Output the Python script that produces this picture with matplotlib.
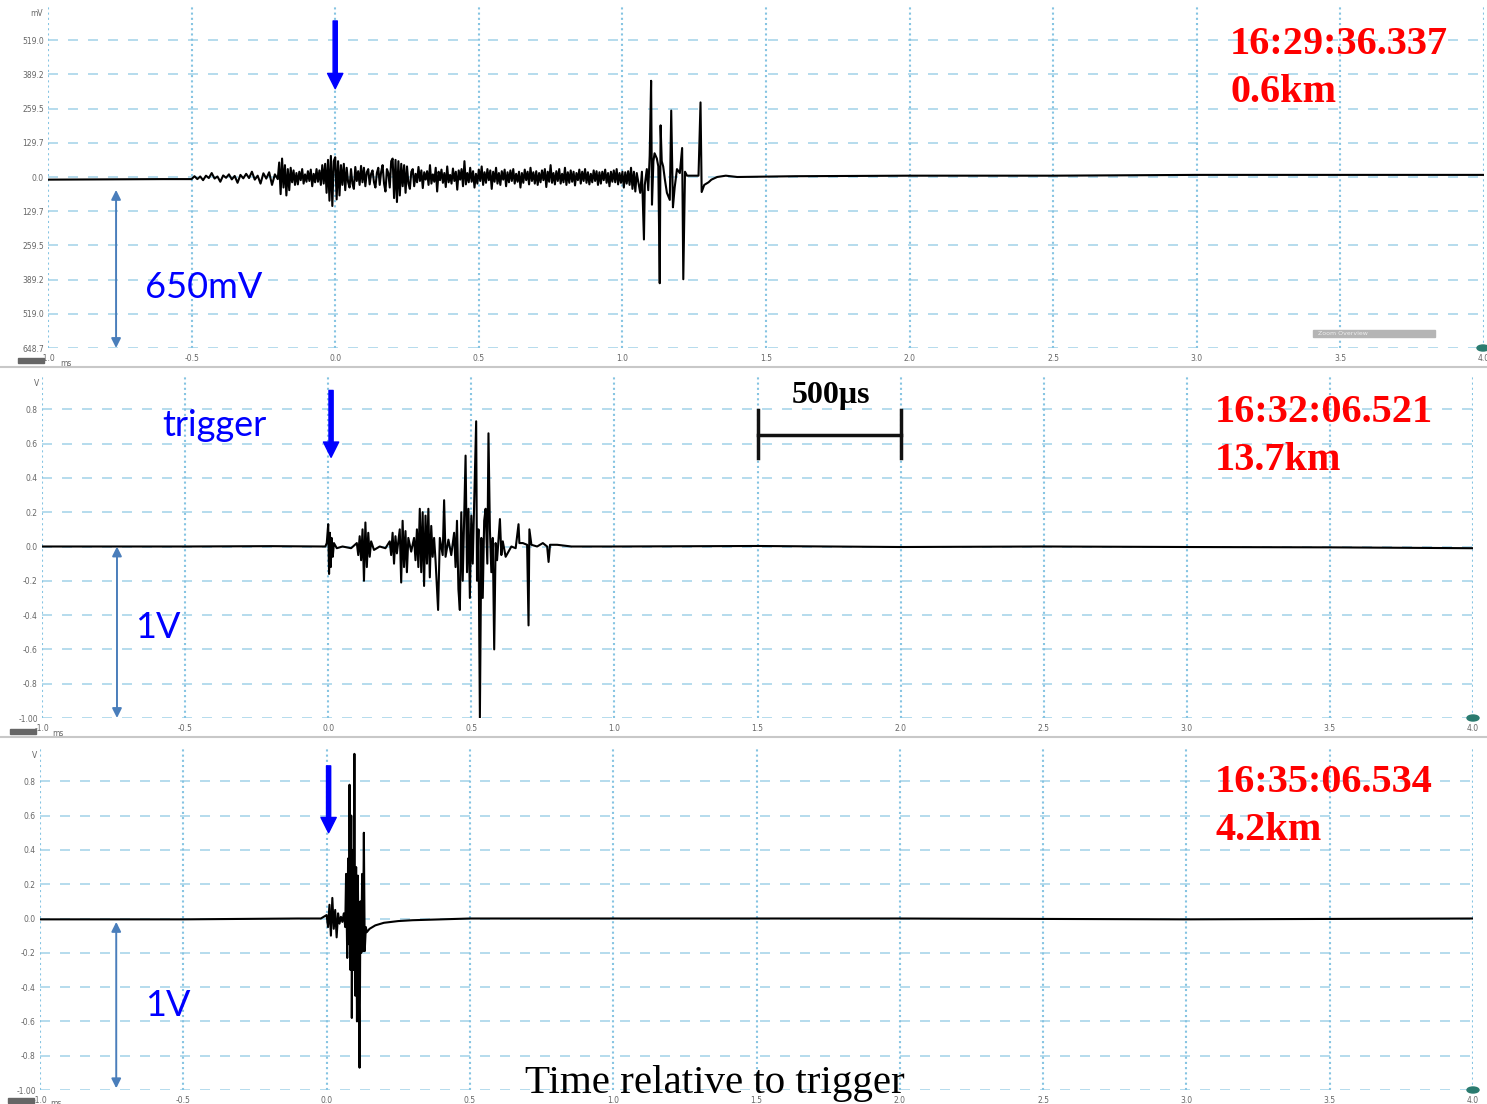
import numpy as np
import matplotlib.pyplot as plt
from matplotlib.patches import Rectangle, Ellipse

# three lightning field-change records, time in ms relative to trigger

# record 1 (mV)
t1 = [-1.0, -0.8, -0.6, -0.5,
      -0.49, -0.48, -0.47, -0.46, -0.45, -0.44, -0.43, -0.42, -0.41, -0.40,
      -0.39, -0.38, -0.37, -0.36, -0.35, -0.34, -0.33, -0.32, -0.31, -0.30,
      -0.29, -0.28, -0.27, -0.26, -0.25, -0.24, -0.23, -0.22, -0.21, -0.20,
      -0.195, -0.190, -0.185, -0.180, -0.175, -0.170, -0.165, -0.160, -0.155, -0.150,
      -0.145, -0.140, -0.135, -0.130, -0.125, -0.120, -0.115, -0.110, -0.105, -0.100,
      -0.095, -0.090, -0.085, -0.080, -0.075, -0.070, -0.065, -0.060, -0.055, -0.050,
      -0.045, -0.040, -0.035, -0.030, -0.025, -0.020, -0.015, -0.010, -0.005, 0.000,
      0.005, 0.010, 0.015, 0.020, 0.025, 0.030, 0.035, 0.040, 0.045, 0.050,
      0.055, 0.060, 0.065, 0.070, 0.075, 0.080, 0.085, 0.090, 0.095, 0.100,
      0.105, 0.110, 0.115, 0.120, 0.125, 0.130, 0.135, 0.140, 0.145, 0.150,
      0.155, 0.160, 0.165, 0.170, 0.175, 0.180, 0.185, 0.190, 0.195, 0.200,
      0.205, 0.210, 0.215, 0.220, 0.225, 0.230, 0.235, 0.240, 0.245, 0.250,
      0.255, 0.260, 0.265,
      0.270, 0.275, 0.280, 0.285, 0.290, 0.295, 0.300, 0.305, 0.310, 0.315,
      0.320, 0.325, 0.330, 0.335, 0.340, 0.345, 0.350, 0.355, 0.360, 0.365,
      0.370, 0.375, 0.380, 0.385, 0.390, 0.395, 0.400, 0.405, 0.410, 0.415,
      0.420, 0.425, 0.430, 0.435, 0.440, 0.445, 0.450, 0.455, 0.460, 0.465,
      0.470, 0.475, 0.480, 0.485, 0.490, 0.495, 0.500, 0.505, 0.510, 0.515,
      0.520, 0.525, 0.530, 0.535, 0.540, 0.545, 0.550, 0.555, 0.560, 0.565,
      0.570, 0.575, 0.580, 0.585, 0.590, 0.595, 0.600, 0.605, 0.610, 0.615,
      0.620, 0.625, 0.630, 0.635, 0.640, 0.645, 0.650, 0.655, 0.660, 0.665,
      0.670, 0.675, 0.680, 0.685, 0.690, 0.695, 0.700, 0.705, 0.710, 0.715,
      0.720, 0.725, 0.730, 0.735, 0.740, 0.745, 0.750, 0.755, 0.760, 0.765,
      0.770, 0.775, 0.780, 0.785, 0.790, 0.795, 0.800, 0.805, 0.810, 0.815,
      0.820, 0.825, 0.830, 0.835, 0.840, 0.845, 0.850, 0.855, 0.860, 0.865,
      0.870, 0.875, 0.880, 0.885, 0.890, 0.895, 0.900, 0.905, 0.910, 0.915,
      0.920, 0.925, 0.930, 0.935, 0.940, 0.945, 0.950, 0.955, 0.960, 0.965,
      0.970, 0.975, 0.980, 0.985, 0.990, 0.995, 1.000, 1.005, 1.010, 1.015,
      1.020, 1.025, 1.030, 1.035, 1.040, 1.045, 1.050,
      1.062, 1.068, 1.075, 1.078, 1.085, 1.090, 1.095, 1.100, 1.103, 1.108, 1.112, 1.120,
      1.125, 1.130, 1.133, 1.137, 1.142, 1.148, 1.155, 1.165, 1.170, 1.176, 1.182, 1.190,
      1.200, 1.208, 1.212, 1.218, 1.225, 1.24, 1.265, 1.272, 1.276, 1.285, 1.30, 1.31,
      1.33, 1.36, 1.40, 1.6, 2.0, 2.5, 3.0, 3.5, 4.0]
v1 = [-10, -9, -8, -8,
      3, -8, 2, -12, 5, -4, 15, -6, 2, -18,
      6, -3, 10, -9, 4, -22, 8, -5, 12, -4,
      20, -10, 5, -25, 14, -6, 18, -30, 10, -8,
      55, -65, 70, -40, 45, -70, 30, -50, 35, -20,
      25, -30, 15, -28, 20, -12, 30, -25, 10, -18,
      22, -15, 28, -35, 12, -20, 30, -18, 25, -30,
      45, -25, 50, -60, 65, -90, 80, -110, 60, 75,
      -85, 60, -70, 45, -30, 50, -50, 35, -20, -40,
      30, -25, -45, 38, -15, 22, -30, 42, -20, 35,
      -35, 18, 30, -28, 12, 25, -20, -40, 15, 35,
      -30, 20, 45, -25, -55, 30, 15, -40, 60, 70,
      -80, 65, -95, 60, -70, 50, -35, 45, -60, 40,
      -25, -45, 20,
      30, -35, 12, -20, 38, -15, 25, -42, 18, -10,
      22, -30, 45, -25, 10, -18, 35, -55, 20, -12,
      28, -22, 15, -38, 40, -20, 8, -25, 32, -15,
      20, -48, 25, -10, 30, -35, 60, -28, 15, -20,
      35, -18, 22, -40, 12, -25, 28, -15, 40, -30,
      18, -22, 30, -12, 25, -45, 20, -18, 35, -25,
      15, -30, 22, -10, 28, -35, 18, -20, 25, -15,
      30, -25, 12, -18, 20, -40, 15, -22, 28, -12,
      20, -28, 35, -15, 18, -25, 22, -30, 15, -20,
      25, -12, 30, -38, 20, -18, 45, -22, 15, -28,
      22, -15, 30, -25, 12, -20, 35, -30, 18, -22,
      25, -18, 20, -32, 15, -12, 28, -25, 20, -15,
      30, -22, 18, -28, 12, -20, 25, -15, 22, -30,
      18, -25, 20, -12, 28, -22, 15, -35, 20, -18,
      25, -20, 30, -28, 15, -22, 20, -40, 18, -25,
      22, -30, 35, -45, 20, -55, 15,
      -60, 20, -237, -30, 30, -50, 80, 365, -105, 60, 90, 70,
      40, -403, 196, 60, 40, -10, -60, -87, 252, -115, -40, 30,
      15, 110, -388, 20, 5, 5, 5, 283, -57, -30, -20, -10,
      0, 5, 0, 3, 5, 5, 8, 8, 8]

# record 2 (V)
t2 = [-1.0, -0.5, -0.2, -0.01,
      -0.005, 0.0, 0.003, 0.006, 0.009, 0.012, 0.016, 0.02, 0.03, 0.05, 0.08,
      0.10, 0.105, 0.11, 0.115, 0.12, 0.125, 0.13, 0.135, 0.14, 0.145, 0.15, 0.16, 0.18, 0.20,
      0.215, 0.22, 0.225, 0.23, 0.235, 0.24, 0.25, 0.255, 0.26, 0.265, 0.27, 0.275, 0.28, 0.29,
      0.30, 0.305, 0.31, 0.315, 0.32, 0.325, 0.33, 0.335, 0.34, 0.345, 0.35, 0.355, 0.36, 0.365, 0.37,
      0.375, 0.384, 0.39, 0.40, 0.405, 0.41, 0.42, 0.43,
      0.44, 0.445, 0.45, 0.455, 0.46, 0.465, 0.47, 0.48, 0.485, 0.49, 0.495, 0.50, 0.505, 0.51,
      0.517, 0.52, 0.525, 0.53, 0.535, 0.54, 0.545, 0.55, 0.556, 0.56, 0.565, 0.57, 0.575, 0.58,
      0.585, 0.59, 0.60, 0.605, 0.61, 0.62, 0.63, 0.64, 0.655, 0.665, 0.668, 0.68, 0.695, 0.70,
      0.703, 0.71, 0.73, 0.75, 0.765, 0.77, 0.775, 0.80, 0.85,
      1.0, 1.5, 2.0, 2.5, 3.0, 3.5, 4.0]
v2 = [0.0, 0.0, 0.002, 0.0,
      0.02, 0.13, -0.16, 0.08, -0.12, 0.05, -0.06, 0.02, -0.01, 0.0, -0.01,
      0.02, -0.05, 0.06, -0.08, 0.10, -0.20, 0.14, -0.12, 0.08, -0.06, 0.03, -0.02, 0.0, -0.01,
      0.03, -0.05, 0.08, -0.10, 0.06, -0.04, 0.10, -0.21, 0.15, -0.12, 0.09, -0.15, 0.05, -0.03,
      0.05, -0.08, 0.10, -0.12, 0.22, -0.15, 0.20, -0.23, 0.18, -0.10, 0.22, -0.18, 0.12, -0.06, 0.05,
      -0.08, -0.37, 0.05, -0.05, 0.27, -0.06, 0.04, -0.05,
      0.08, -0.12, 0.15, -0.25, -0.37, 0.20, -0.20, 0.53, -0.15, 0.22, -0.30, 0.18, -0.10, 0.25,
      0.73, -0.20, 0.10, -1.0, 0.05, -0.30, 0.15, 0.22, -0.10, 0.66, 0.10, -0.15, 0.05, -0.60,
      0.02, -0.08, 0.16, -0.05, 0.03, -0.06, -0.03, 0.0, -0.01, 0.13, 0.02, 0.02, 0.01, -0.46,
      0.10, 0.01, 0.0, 0.02, 0.0, -0.09, 0.01, 0.01, 0.0,
      0.0, 0.003, -0.003, 0.0, -0.003, -0.005, -0.01]

# record 3 (V)
t3 = [-1.0, -0.5, -0.1, -0.02,
      0.0, 0.005, 0.01, 0.015, 0.02, 0.025, 0.03, 0.035, 0.04, 0.045, 0.05, 0.055, 0.06,
      0.065, 0.068, 0.072, 0.075, 0.078, 0.08, 0.083, 0.086, 0.088, 0.091, 0.094, 0.097,
      0.10, 0.103, 0.106, 0.109, 0.112, 0.115, 0.118, 0.121, 0.124, 0.127, 0.13, 0.133,
      0.137, 0.14, 0.15, 0.17, 0.2, 0.25, 0.3, 0.4, 0.5, 1.0, 2.0, 3.0, 4.0]
v3 = [-0.005, -0.005, 0.0, 0.0,
      0.02, -0.05, 0.08, -0.10, 0.12, -0.06, 0.05, -0.11, 0.03, -0.03, 0.01, -0.02, 0.03,
      -0.05, 0.26, -0.23, 0.35, -0.15, 0.78, -0.30, 0.60, -0.58, 0.40, -0.30, 0.96,
      -0.45, 0.30, -0.60, 0.25, -0.35, -0.87, 0.10, -0.20, 0.26, -0.19, 0.50, -0.19,
      -0.05, -0.08, -0.06, -0.04, -0.025, -0.015, -0.01, -0.005, 0.0, 0.0, 0.0, -0.005, 0.0]

x_ticks = [-1.0, -0.5, 0.0, 0.5, 1.0, 1.5, 2.0, 2.5, 3.0, 3.5, 4.0]
mv_ticks = [-648.7, -519.0, -389.2, -259.5, -129.7, 0.0, 129.7, 259.5, 389.2, 519.0]
mv_labels = ['648.7', '519.0', '389.2', '259.5', '129.7', '0.0', '129.7', '259.5', '389.2', '519.0']
v_ticks = [-1.0, -0.8, -0.6, -0.4, -0.2, 0.0, 0.2, 0.4, 0.6, 0.8]
v_labels = ['-1.00', '-0.8', '-0.6', '-0.4', '-0.2', '0.0', '0.2', '0.4', '0.6', '0.8']
stamps = ['16:29:36.337', '16:32:06.521', '16:35:06.534']
dists = ['0.6km', '13.7km', '4.2km']

W, H = 1487, 1104
def fx(x):
    return x / W
def fy(y):
    return 1 - y / H

fig = plt.figure(figsize=(W / 100, H / 100), dpi=100)

# axes boxes in pixels: left, right, top, bottom
boxes = [(48, 1484, 6, 348), (42, 1473, 375, 718), (40, 1473, 747, 1090)]
axes = []
for (l, r, t, b) in boxes:
    ax = fig.add_axes([fx(l), fy(b), (r - l) / W, (b - t) / H])
    axes.append(ax)

grid_h = '#a9d6ea'
grid_v = '#86c4e2'
datas = [(t1, v1, mv_ticks, mv_labels, 648.7), (t2, v2, v_ticks, v_labels, 1.0), (t3, v3, v_ticks, v_labels, 1.0)]
for ax, (t, v, yt, yl, lim) in zip(axes, datas):
    ax.set_xlim(-1.0, 4.0)
    ax.set_ylim(-lim, lim)
    for s in ax.spines.values():
        s.set_visible(False)
    ax.set_yticks(yt)
    ax.set_yticklabels(yl)
    ax.set_xticks(x_ticks)
    ax.set_xticklabels(['%.1f' % x for x in x_ticks])
    ax.tick_params(length=0, labelsize=5.5, labelcolor='#666666', pad=3)
    ax.tick_params(axis='x', pad=4)
    for y in yt:
        ax.axhline(y, color=grid_h, lw=1.2, ls=(0, (6, 6)), zorder=0)
    for x in x_ticks:
        ax.axvline(x, color=grid_v, lw=1.5, ls=(0, (1, 1.5)), zorder=0)
    ax.plot(t, v, color='black', lw=1.5, zorder=3)

# trigger arrows
arrow_kw = dict(color='blue', width=3, headwidth=11, headlength=11)
axes[0].annotate('', xy=(0.0, 335), xytext=(0.0, 592), arrowprops=arrow_kw)
axes[1].annotate('', xy=(0.01, 0.52), xytext=(0.01, 0.91), arrowprops=arrow_kw)
axes[2].annotate('', xy=(0.007, 0.50), xytext=(0.007, 0.89), arrowprops=arrow_kw)

# amplitude arrows
dbl = dict(arrowstyle='<|-|>', color='#4a7ebb', lw=1.4, mutation_scale=14, shrinkA=0, shrinkB=0)
axes[0].annotate('', xy=(-0.763, -648.7), xytext=(-0.763, -49), arrowprops=dbl)
axes[1].annotate('', xy=(-0.738, -1.0), xytext=(-0.738, 0.0), arrowprops=dbl)
axes[2].annotate('', xy=(-0.734, -0.99), xytext=(-0.734, -0.02), arrowprops=dbl)

# 500 us scale bar
axes[1].plot([1.5, 2.0], [0.65, 0.65], color='#111111', lw=2.5, zorder=4)
axes[1].plot([1.5, 1.5], [0.515, 0.795], color='#111111', lw=2.5, zorder=4)
axes[1].plot([2.0, 2.0], [0.515, 0.795], color='#111111', lw=2.5, zorder=4)
fig.text(fx(831), fy(396), '500\u03bcs', family='Liberation Serif', weight='bold',
         fontsize=23, ha='center', va='center')

blue_kw = dict(family='Lato', color='blue', fontsize=26, va='center')
fig.text(fx(145), fy(287), '650mV', **blue_kw)
fig.text(fx(162), fy(425), 'trigger', **blue_kw)
fig.text(fx(135), fy(628), '1V', **blue_kw)
fig.text(fx(145), fy(1005), '1V', **blue_kw)

red_kw = dict(family='Liberation Serif', weight='bold', color='red', fontsize=29, va='center')
for (x, y1, y2), s, d in zip([(1230, 45, 93), (1215, 412, 461), (1215, 783, 831)], stamps, dists):
    fig.text(fx(x), fy(y1), s, **red_kw)
    fig.text(fx(x), fy(y2), d, **red_kw)

fig.text(fx(715), fy(1084), 'Time relative to trigger', family='Liberation Serif',
         fontsize=29.5, ha='center', va='center')

# unit labels and small scope decorations
small = dict(fontsize=5.5, color='#666666', va='center')
fig.text(fx(30), fy(13), 'mV', **small)
fig.text(fx(34), fy(383), 'V', **small)
fig.text(fx(32), fy(755), 'V', **small)
for (bx, by) in [(18, 358), (10, 729), (8, 1098)]:
    fig.patches.append(Rectangle((fx(bx), fy(by + 5)), 26 / W, 5 / H, transform=fig.transFigure,
                                 color='#666666'))
    fig.text(fx(bx + 42), fy(by + 5), 'ms', **small)
fig.patches.append(Rectangle((fx(1313), fy(337)), 122 / W, 7 / H, transform=fig.transFigure,
                             color='#b5b5b5'))
fig.text(fx(1318), fy(333.5), 'Zoom Overview', fontsize=4.5, color='#eeeeee', va='center')
for (ex, ey) in [(1483, 348), (1473, 718), (1473, 1090)]:
    fig.patches.append(Ellipse((fx(ex), fy(ey)), 12 / W, 6 / H, transform=fig.transFigure,
                               color='#2a7b6f'))

# panel separators
for y in [367, 737]:
    fig.add_artist(plt.Line2D([0, 1], [fy(y), fy(y)], color='#c8c8c8', lw=1.5))

fig.savefig('out.png', dpi=100)
